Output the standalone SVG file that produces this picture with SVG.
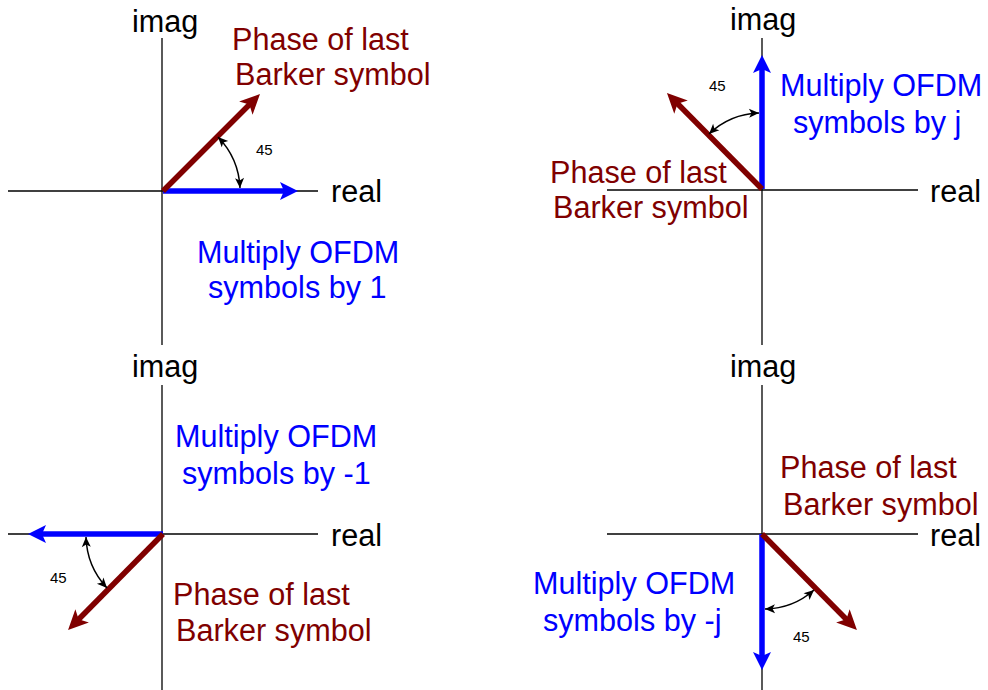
<svg xmlns="http://www.w3.org/2000/svg" width="988" height="690" viewBox="0 0 988 690">
<defs>
<style>
.ax{stroke:#000;stroke-width:1.3;fill:none}
.blu{stroke:#0000ff;stroke-width:5.5;fill:none;marker-end:url(#hb)}
.red{stroke:#800000;stroke-width:5.5;fill:none;marker-end:url(#hr)}
.arc{stroke:#000;stroke-width:1.5;fill:none;marker-start:url(#ha);marker-end:url(#ha)}
text{font-family:"Liberation Sans",Arial,sans-serif;font-size:30.6px}
.k{fill:#000}
.tb{fill:#0000ff}
.tr{fill:#800000}
.n{font-size:15px;fill:#000}
</style>
<marker id="hb" markerUnits="userSpaceOnUse" markerWidth="40" markerHeight="40" refX="0" refY="0" orient="auto" overflow="visible">
<path d="M-6,-9 L12,0 L-6,9 L-2,0 Z" fill="#0000ff"/>
</marker>
<marker id="hr" markerUnits="userSpaceOnUse" markerWidth="40" markerHeight="40" refX="0" refY="0" orient="auto" overflow="visible">
<path d="M-8,-9.5 L12,0 L-8,9.5 L-3,0 Z" fill="#800000"/>
</marker>
<marker id="ha" markerUnits="userSpaceOnUse" markerWidth="20" markerHeight="20" refX="0" refY="0" orient="auto-start-reverse" overflow="visible">
<path d="M-10,-4.5 L0,0 L-10,4.5 L-7.5,0 Z" fill="#000"/>
</marker>
</defs>

<g id="axes">
<line class="ax" x1="162" y1="38" x2="162" y2="345"/>
<line class="ax" x1="8" y1="191" x2="318" y2="191"/>
<line class="ax" x1="762" y1="38" x2="762" y2="345"/>
<line class="ax" x1="607" y1="190" x2="918" y2="190"/>
<line class="ax" x1="162" y1="385" x2="162" y2="690"/>
<line class="ax" x1="8" y1="534" x2="318" y2="534"/>
<line class="ax" x1="762" y1="385" x2="762" y2="690"/>
<line class="ax" x1="607" y1="534" x2="918" y2="534"/>
</g>

<g id="connectors">
<line class="blu" x1="163" y1="191" x2="286" y2="191"/>
<line class="red" x1="163" y1="191" x2="251.5" y2="102.5"/>
<line class="blu" x1="762" y1="189" x2="762" y2="67"/>
<line class="red" x1="762" y1="189" x2="675.4" y2="101.5"/>
<line class="blu" x1="163" y1="534" x2="40" y2="534"/>
<line class="red" x1="163" y1="534" x2="76.5" y2="621.5"/>
<line class="blu" x1="762" y1="534" x2="762" y2="658"/>
<line class="red" x1="762" y1="534" x2="848.5" y2="621.5"/>
<path class="arc" d="M218,137 A78,78 0 0 1 240,188"/>
<path class="arc" d="M709,134 A76,76 0 0 1 759,113"/>
<path class="arc" d="M86,537 A78,78 0 0 0 107,588"/>
<path class="arc" d="M765,609 A76,76 0 0 0 814,590"/>
</g>

<g id="q1">
<text class="k" x="132" y="32">imag</text>
<text class="k" x="331" y="202">real</text>
<text class="tr" x="232" y="50">Phase of last</text>
<text class="tr" x="235" y="85">Barker symbol</text>
<text class="tb" x="197" y="263">Multiply OFDM</text>
<text class="tb" x="208" y="298">symbols by 1</text>
<text class="n" x="256" y="155">45</text>
</g>

<g id="q2">
<text class="k" x="730" y="30">imag</text>
<text class="k" x="930" y="202">real</text>
<text class="tb" x="780" y="96">Multiply OFDM</text>
<text class="tb" x="793" y="133">symbols by j</text>
<text class="tr" x="550" y="183">Phase of last</text>
<text class="tr" x="553" y="218">Barker symbol</text>
<text class="n" x="709" y="91">45</text>
</g>

<g id="q3">
<text class="k" x="132" y="377">imag</text>
<text class="k" x="331" y="546">real</text>
<text class="tb" x="175" y="447">Multiply OFDM</text>
<text class="tb" x="182" y="484">symbols by -1</text>
<text class="tr" x="173" y="605">Phase of last</text>
<text class="tr" x="176" y="641">Barker symbol</text>
<text class="n" x="50" y="583">45</text>
</g>

<g id="q4">
<text class="k" x="730" y="377">imag</text>
<text class="k" x="930" y="546">real</text>
<text class="tr" x="780" y="478">Phase of last</text>
<text class="tr" x="783" y="515">Barker symbol</text>
<text class="tb" x="533" y="594">Multiply OFDM</text>
<text class="tb" x="543" y="631">symbols by -j</text>
<text class="n" x="793" y="642">45</text>
</g>
</svg>
